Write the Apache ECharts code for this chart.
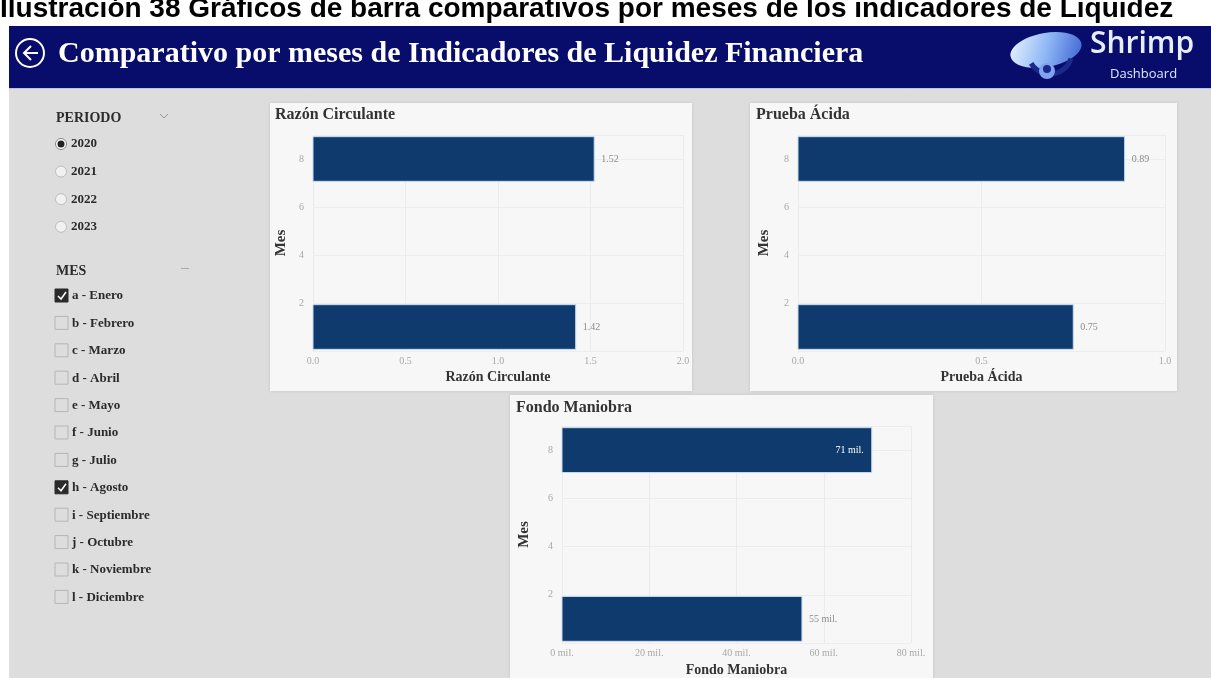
<!DOCTYPE html>
<html>
<head>
<meta charset="utf-8">
<title>Comparativo por meses de Indicadores de Liquidez Financiera</title>
<script src="https://cdn.jsdelivr.net/npm/echarts@6/dist/echarts.min.js"></script>
<style>
  html, body { margin: 0; padding: 0; background: #fff; }
  #main { width: 1211px; height: 678px; }
</style>
</head>
<body>
<div id="main"></div>
<script>
// datos
const meses = [1, 8];
const razonCirculante = [1.42, 1.52];
const pruebaAcida = [0.75, 0.89];
const fondoManiobra = [55000, 71000];
const periodos = ['2020', '2021', '2022', '2023'];
const periodoSel = '2020';
const mesesSlicer = ['a - Enero', 'b - Febrero', 'c - Marzo', 'd - Abril', 'e - Mayo', 'f - Junio',
  'g - Julio', 'h - Agosto', 'i - Septiembre', 'j - Octubre', 'k - Noviembre', 'l - Diciembre'];
const mesesMarcados = ['a - Enero', 'h - Agosto'];

const SERIF = '"Liberation Serif", "DejaVu Serif", serif';
const BAR_COLOR = '#0e3a6e';
const BAR_HALF = 0.93;

const chart = echarts.init(document.getElementById('main'));

function fmtDec(v) { return v.toFixed(2); }
function fmtMil(v) { return Math.round(v / 1000) + ' mil.'; }

function renderBarras(fmt, labelPos) {
  return function (params, api) {
    const val = api.value(0), mes = api.value(1);
    const p0 = api.coord([0, mes + BAR_HALF]);
    const p1 = api.coord([val, mes - BAR_HALF]);
    const inside = labelPos && labelPos[params.dataIndex] === 'inside';
    const cy = (p0[1] + p1[1]) / 2;
    return {
      type: 'group',
      children: [
        {
          type: 'rect',
          shape: { x: p0[0], y: p0[1], width: p1[0] - p0[0], height: p1[1] - p0[1] },
          style: { fill: BAR_COLOR, stroke: '#c6daef', lineWidth: 1 }
        },
        {
          type: 'text',
          x: inside ? p1[0] - 8 : p1[0] + 7,
          y: cy,
          style: {
            text: fmt(val),
            fill: inside ? '#ffffff' : '#8c8c8c',
            fontSize: 10,
            fontFamily: SERIF,
            align: inside ? 'right' : 'left',
            verticalAlign: 'middle'
          }
        }
      ]
    };
  };
}

function ejeX(idx, max, interval, fmt, name, gap) {
  return {
    gridIndex: idx, type: 'value', min: 0, max: max, interval: interval,
    axisLine: { show: false }, axisTick: { show: false },
    axisLabel: { formatter: fmt, color: '#a8a8a8', fontSize: 10, fontFamily: SERIF, margin: 5 },
    splitLine: { show: true, lineStyle: { color: '#ebebeb' } },
    name: name, nameLocation: 'middle', nameGap: gap,
    nameTextStyle: { color: '#333', fontSize: 14, fontWeight: 'bold', fontFamily: SERIF }
  };
}

function ejeY(idx, gap) {
  return {
    gridIndex: idx, type: 'value', min: 0, max: 9, interval: 2,
    axisLine: { show: false }, axisTick: { show: false },
    axisLabel: { color: '#a8a8a8', fontSize: 10, fontFamily: SERIF, margin: 9, showMinLabel: false, showMaxLabel: false },
    splitLine: { show: true, lineStyle: { color: '#ededed' } },
    name: 'Mes', nameLocation: 'middle', nameGap: gap,
    nameTextStyle: { color: '#333', fontSize: 15, fontWeight: 'bold', fontFamily: SERIF }
  };
}

// graficos de fondo: encabezado, panel de filtros y tarjetas
const graficos = [];
graficos.push({ type: 'rect', z: -10, shape: { x: 9, y: 88, width: 1202, height: 590 }, style: { fill: '#dddddd' } });
graficos.push({ type: 'text', x: 0, y: 23, style: {
  text: 'Ilustración 38 Gráficos de barra comparativos por meses de los indicadores de Liquidez',
  fill: '#000', fontSize: 28, fontWeight: 'bold', fontFamily: '"Liberation Sans", Arial, sans-serif', verticalAlign: 'bottom' } });
graficos.push({ type: 'rect', z: -9, shape: { x: 9, y: 26, width: 1202, height: 62 }, style: { fill: '#080d6b' } });
graficos.push({ type: 'line', z: -8, shape: { x1: 9, y1: 88.5, x2: 1211, y2: 88.5 }, style: { stroke: '#b9c3e6', lineWidth: 1 } });
// boton volver
graficos.push({ type: 'circle', shape: { cx: 30, cy: 53, r: 14 }, style: { fill: 'none', stroke: '#fff', lineWidth: 2 } });
graficos.push({ type: 'polyline', shape: { points: [[31, 46], [24, 53], [31, 60]] }, style: { fill: 'none', stroke: '#fff', lineWidth: 2 } });
graficos.push({ type: 'line', shape: { x1: 24, y1: 53, x2: 38, y2: 53 }, style: { stroke: '#fff', lineWidth: 2 } });
graficos.push({ type: 'text', x: 58, y: 54, style: {
  text: 'Comparativo por meses de Indicadores de Liquidez Financiera',
  fill: '#fff', fontSize: 30, fontWeight: 'bold', fontFamily: SERIF, verticalAlign: 'middle' } });
// logo
graficos.push({ type: 'ellipse', shape: { cx: 1046, cy: 50, rx: 36, ry: 17 }, rotation: 0.18, originX: 1046, originY: 50,
  style: { fill: new echarts.graphic.LinearGradient(0, 0, 1, 1, [
    { offset: 0, color: '#eef6ff' }, { offset: 0.5, color: '#8fb8f5' }, { offset: 1, color: '#3b5fd0' }]) } });
graficos.push({ type: 'arc', shape: { cx: 1050, cy: 52, r: 22, startAngle: 0.3, endAngle: 2.6 }, style: { stroke: '#1b2a8a', lineWidth: 5, fill: 'none' } });
graficos.push({ type: 'circle', shape: { cx: 1047, cy: 71, r: 8 }, style: { fill: '#7fa3ee' } });
graficos.push({ type: 'circle', shape: { cx: 1047, cy: 69, r: 4 }, style: { fill: '#1b2a8a' } });
graficos.push({ type: 'text', x: 1090, y: 44, style: { text: 'Shrimp', fill: '#e6eeff', fontSize: 30, fontWeight: 600,
  fontFamily: '"Open Sans", sans-serif', verticalAlign: 'middle' } });
graficos.push({ type: 'text', x: 1110, y: 74, style: { text: 'Dashboard', fill: '#dde6fb', fontSize: 13,
  fontFamily: '"Open Sans", sans-serif', verticalAlign: 'middle' } });

// tarjetas de graficos
[[270, 103, 422, 288], [750, 103, 427, 288], [510, 395, 423, 283]].forEach(function (r) {
  graficos.push({ type: 'rect', z: -5, shape: { x: r[0], y: r[1], width: r[2], height: r[3] },
    style: { fill: '#f7f7f7', shadowColor: 'rgba(0,0,0,0.12)', shadowBlur: 3 } });
});
[['Razón Circulante', 275, 115], ['Prueba Ácida', 756, 115], ['Fondo Maniobra', 516, 408]].forEach(function (t) {
  graficos.push({ type: 'text', x: t[1], y: t[2], style: { text: t[0], fill: '#333', fontSize: 16, fontWeight: 'bold',
    fontFamily: SERIF, verticalAlign: 'middle' } });
});

// filtros
const txtFiltro = { fill: '#2b2b2b', fontSize: 13, fontWeight: 'bold', fontFamily: SERIF, verticalAlign: 'middle' };
graficos.push({ type: 'text', x: 56, y: 118, style: Object.assign({ text: 'PERIODO' }, txtFiltro, { fontSize: 14 }) });
graficos.push({ type: 'polyline', shape: { points: [[160, 114], [164, 118], [168, 114]] }, style: { fill: 'none', stroke: '#999', lineWidth: 1 } });
periodos.forEach(function (p, i) {
  const y = 144 + i * 27.6;
  const sel = p === periodoSel;
  graficos.push({ type: 'circle', shape: { cx: 61, cy: y, r: 5.5 }, style: { fill: sel ? '#fff' : '#f1f1f1', stroke: sel ? '#888' : '#bdbdbd', lineWidth: 1 } });
  if (sel) graficos.push({ type: 'circle', shape: { cx: 61, cy: y, r: 3.5 }, style: { fill: '#222' } });
  graficos.push({ type: 'text', x: 71, y: y, style: Object.assign({ text: p }, txtFiltro) });
});
graficos.push({ type: 'text', x: 56, y: 271, style: Object.assign({ text: 'MES' }, txtFiltro, { fontSize: 14 }) });
graficos.push({ type: 'line', shape: { x1: 181, y1: 268.5, x2: 189, y2: 268.5 }, style: { stroke: '#aaa', lineWidth: 1 } });
mesesSlicer.forEach(function (m, i) {
  const y = 296 + i * 27.4;
  const on = mesesMarcados.indexOf(m) >= 0;
  graficos.push({ type: 'rect', shape: { x: 55, y: y - 7, width: 13, height: 13 },
    style: { fill: on ? '#2a2a2a' : 'none', stroke: on ? '#2a2a2a' : '#b5b5b5', lineWidth: 1 } });
  if (on) graficos.push({ type: 'polyline', shape: { points: [[58, y], [61, y + 3], [66, y - 4]] }, style: { fill: 'none', stroke: '#fff', lineWidth: 1.5 } });
  graficos.push({ type: 'text', x: 72, y: y, style: Object.assign({ text: m }, txtFiltro) });
});

const option = {
  backgroundColor: '#ffffff',
  animation: false,
  graphic: { elements: graficos },
  grid: [
    { left: 313, top: 135, width: 370, height: 216 },
    { left: 798, top: 135, width: 367, height: 216 },
    { left: 562, top: 426, width: 349, height: 217 }
  ],
  xAxis: [
    ejeX(0, 2, 0.5, function (v) { return v.toFixed(1); }, 'Razón Circulante', 19),
    ejeX(1, 1, 0.5, function (v) { return v.toFixed(1); }, 'Prueba Ácida', 19),
    ejeX(2, 80000, 20000, fmtMil, 'Fondo Maniobra', 20)
  ],
  yAxis: [ejeY(0, 24), ejeY(1, 26), ejeY(2, 30)],
  series: [
    { type: 'custom', xAxisIndex: 0, yAxisIndex: 0, encode: { x: 0, y: 1 },
      data: razonCirculante.map(function (v, i) { return [v, meses[i]]; }),
      renderItem: renderBarras(fmtDec) },
    { type: 'custom', xAxisIndex: 1, yAxisIndex: 1, encode: { x: 0, y: 1 },
      data: pruebaAcida.map(function (v, i) { return [v, meses[i]]; }),
      renderItem: renderBarras(fmtDec) },
    { type: 'custom', xAxisIndex: 2, yAxisIndex: 2, encode: { x: 0, y: 1 },
      data: fondoManiobra.map(function (v, i) { return [v, meses[i]]; }),
      renderItem: renderBarras(fmtMil, ['outside', 'inside']) }
  ]
};
chart.setOption(option);
</script>
</body>
</html>
